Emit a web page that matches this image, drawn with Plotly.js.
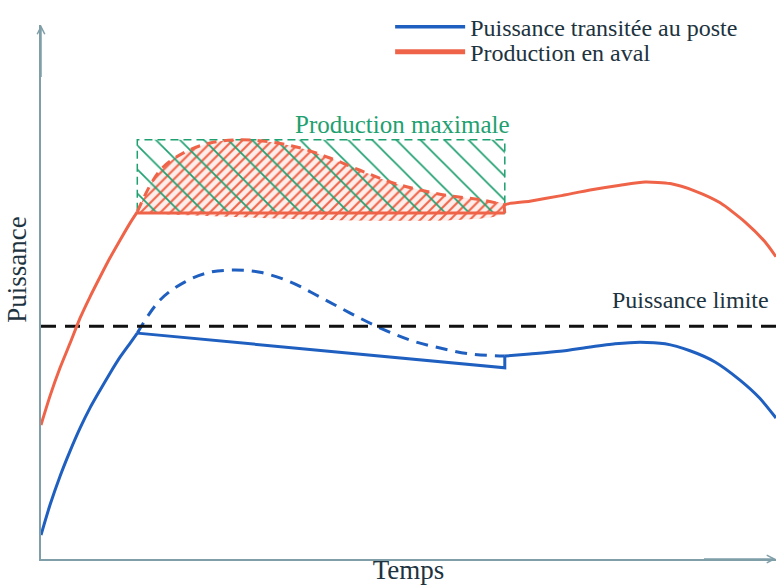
<!DOCTYPE html>
<html>
<head>
<meta charset="utf-8">
<script src="https://cdn.plot.ly/plotly-3.0.1.min.js"></script>
<style>html,body{margin:0;padding:0;background:#fff;} #chart{width:776px;height:587px;}</style>
</head>
<body>
<div id="chart"></div>
<script>
// Time axis (0-100, arbitrary units) and power (0-100, arbitrary units)
const redRiseT = [0, 1.22, 2.59, 3.95, 5.31, 6.67, 8.03, 9.39, 10.75, 12.11, 13.1];
const redRiseP = [25.1, 30.5, 35.8, 40.4, 45.1, 49.1, 52.8, 56.4, 59.7, 62.9, 65.0];
const redFlatT = [13.1, 63.1];
const redFlatP = [64.8, 64.8];
const redAfterT = [63.1, 63.1, 66.5, 70.6, 74.7, 78.8, 82.2, 85.6, 89.0, 92.4, 95.8, 98.5, 100];
const redAfterP = [64.8, 66.3, 67.0, 68.0, 69.1, 70.0, 70.6, 70.3, 68.9, 66.7, 63.1, 59.4, 56.6];
const redMaxT = [13.1, 16.2, 19.6, 23.0, 27.1, 31.2, 35.2, 39.3, 43.4, 47.5, 51.6, 55.6, 59.7, 63.1];
const redMaxP = [65.0, 72.8, 76.2, 77.9, 78.5, 78.1, 77.0, 75.1, 72.8, 70.6, 69.1, 68.0, 67.3, 66.3];

const blueRiseT = [0, 1.22, 2.59, 3.95, 5.31, 6.67, 8.03, 9.39, 10.75, 12.11, 13.1];
const blueRiseP = [4.5, 10.1, 15.5, 20.2, 24.5, 28.3, 31.6, 34.8, 37.8, 40.4, 42.3];
const blueLimT = [13.1, 63.1, 63.1];
const blueLimP = [42.3, 35.8, 38.0];
const blueAfterT = [63.1, 66.5, 70.6, 74.7, 78.1, 81.5, 84.9, 88.3, 91.7, 95.1, 97.8, 100];
const blueAfterP = [38.0, 38.4, 38.9, 39.7, 40.3, 40.6, 40.3, 39.0, 36.9, 33.5, 30.1, 26.4];
const blueMaxT = [13.1, 16.2, 19.6, 23.0, 26.4, 29.8, 33.9, 37.9, 42.0, 46.1, 50.2, 54.3, 58.4, 63.1];
const blueMaxP = [42.3, 48.5, 51.9, 53.7, 54.1, 53.7, 51.9, 49.1, 46.1, 43.3, 41.0, 39.5, 38.4, 38.0];

const limitT = [0, 100];
const limitP = [43.6, 43.6];

const boxT = [13.1, 63.1, 63.1, 13.1, 13.1];
const boxP = [64.8, 64.8, 78.5, 78.5, 64.8];

const labels = {
  blue: 'Puissance transitée au poste',
  red: 'Production en aval',
  maxProd: 'Production maximale',
  limit: 'Puissance limite',
  x: 'Temps',
  y: 'Puissance'
};

const RED = '#ef6449';
const BLUE = '#1f5fc0';
const GREEN = '#1fa070';
const TXT = '#1d3340';
const AX = '#7f9ea8';
const FONT = 'Liberation Serif';
const FS = 24;
const FS_AX = 27;

// red hatched area between max production curve and flat line
const areaT = redMaxT.concat(redFlatT.slice().reverse());
const areaP = redMaxP.concat(redFlatP.slice().reverse());

const traces = [
  {x: areaT, y: areaP, mode: 'lines', fill: 'toself', line: {width: 0, color: RED, shape: 'spline'},
   fillcolor: 'rgba(0,0,0,0)',
   fillpattern: {shape: '/', fgcolor: RED, bgcolor: 'rgba(250,200,190,0.3)', size: 7, solidity: 0.3},
   showlegend: false, hoverinfo: 'skip'},
  {x: boxT, y: boxP, mode: 'lines', fill: 'toself', line: {width: 1.5, color: GREEN, dash: '8px,5px'},
   fillcolor: 'rgba(0,0,0,0)',
   fillpattern: {shape: '\\', fgcolor: GREEN, bgcolor: 'rgba(0,0,0,0)', size: 17, solidity: 0.1},
   showlegend: false, hoverinfo: 'skip'},
  {x: redMaxT, y: redMaxP, mode: 'lines', line: {color: RED, width: 3, dash: '10px,7px', shape: 'spline'},
   showlegend: false},
  {x: blueMaxT, y: blueMaxP, mode: 'lines', line: {color: BLUE, width: 3, dash: '12px,8px', shape: 'spline'},
   showlegend: false},
  {x: limitT, y: limitP, mode: 'lines', line: {color: '#111', width: 3, dash: '15px,9px'}, showlegend: false},
  {x: redRiseT, y: redRiseP, mode: 'lines', line: {color: RED, width: 3, shape: 'spline', smoothing: 0.6}, showlegend: false},
  {x: redFlatT, y: redFlatP, mode: 'lines', line: {color: RED, width: 3}, showlegend: false},
  {x: redAfterT, y: redAfterP, mode: 'lines', line: {color: RED, width: 3, shape: 'spline', smoothing: 0.6}, showlegend: false},
  {x: blueRiseT, y: blueRiseP, mode: 'lines', line: {color: BLUE, width: 3, shape: 'spline', smoothing: 0.6}, showlegend: false},
  {x: blueLimT, y: blueLimP, mode: 'lines', line: {color: BLUE, width: 3}, showlegend: false},
  {x: blueAfterT, y: blueAfterP, mode: 'lines', line: {color: BLUE, width: 3, shape: 'spline', smoothing: 0.6}, showlegend: false},
  // legend entries
  {x: [null], y: [null], mode: 'lines', name: labels.blue, line: {color: BLUE, width: 3.5}, legend: 'legend'},
  {x: [null], y: [null], mode: 'lines', name: labels.red, line: {color: RED, width: 5}, legend: 'legend2'}
];

const legendBase = {x: 0.475, xanchor: 'left', yanchor: 'middle', bgcolor: 'rgba(0,0,0,0)',
  font: {family: FONT, size: FS, color: TXT}, itemwidth: 70, borderwidth: 0};

const layout = {
  width: 776, height: 587,
  margin: {l: 41, r: 0, t: 25, b: 28},
  paper_bgcolor: '#fff', plot_bgcolor: '#fff',
  font: {family: FONT, color: TXT, size: FS},
  xaxis: {range: [0, 100], showgrid: false, zeroline: false, showticklabels: false, ticks: '',
          showline: true, linecolor: AX, linewidth: 2,
          title: {text: labels.x, font: {family: FONT, size: FS_AX, color: TXT}, standoff: 0}},
  yaxis: {range: [0, 100], showgrid: false, zeroline: false, showticklabels: false, ticks: '',
          showline: true, linecolor: AX, linewidth: 2},
  showlegend: true,
  legend: Object.assign({}, legendBase, {y: 0.996}),
  legend2: Object.assign({}, legendBase, {y: 0.949}),
  annotations: [
    {xref: 'paper', yref: 'paper', x: -0.033, y: 0.543, text: labels.y, textangle: -90, showarrow: false,
     font: {family: FONT, size: FS_AX, color: TXT}, xanchor: 'center', yanchor: 'middle'},
    {x: 64.1, y: 81.3, text: labels.maxProd, showarrow: false, xanchor: 'right', yanchor: 'middle',
     font: {family: FONT, size: 25, color: GREEN}},
    {x: 99.3, y: 48.5, text: labels.limit, showarrow: false, xanchor: 'right', yanchor: 'middle',
     font: {family: FONT, size: FS, color: TXT}},
    {x: 0, y: 100, ax: 0, ay: 90, axref: 'x', ayref: 'y', xref: 'x', yref: 'y', showarrow: true,
     arrowhead: 5, arrowsize: 1, arrowwidth: 1.5, arrowcolor: AX, text: ''},
    {x: 100, y: 0, ax: 90, ay: 0, axref: 'x', ayref: 'y', xref: 'x', yref: 'y', showarrow: true,
     arrowhead: 5, arrowsize: 1, arrowwidth: 1.5, arrowcolor: AX, text: ''}
  ]
};

Plotly.newPlot('chart', traces, layout, {displayModeBar: false, staticPlot: true});
</script>
</body>
</html>
